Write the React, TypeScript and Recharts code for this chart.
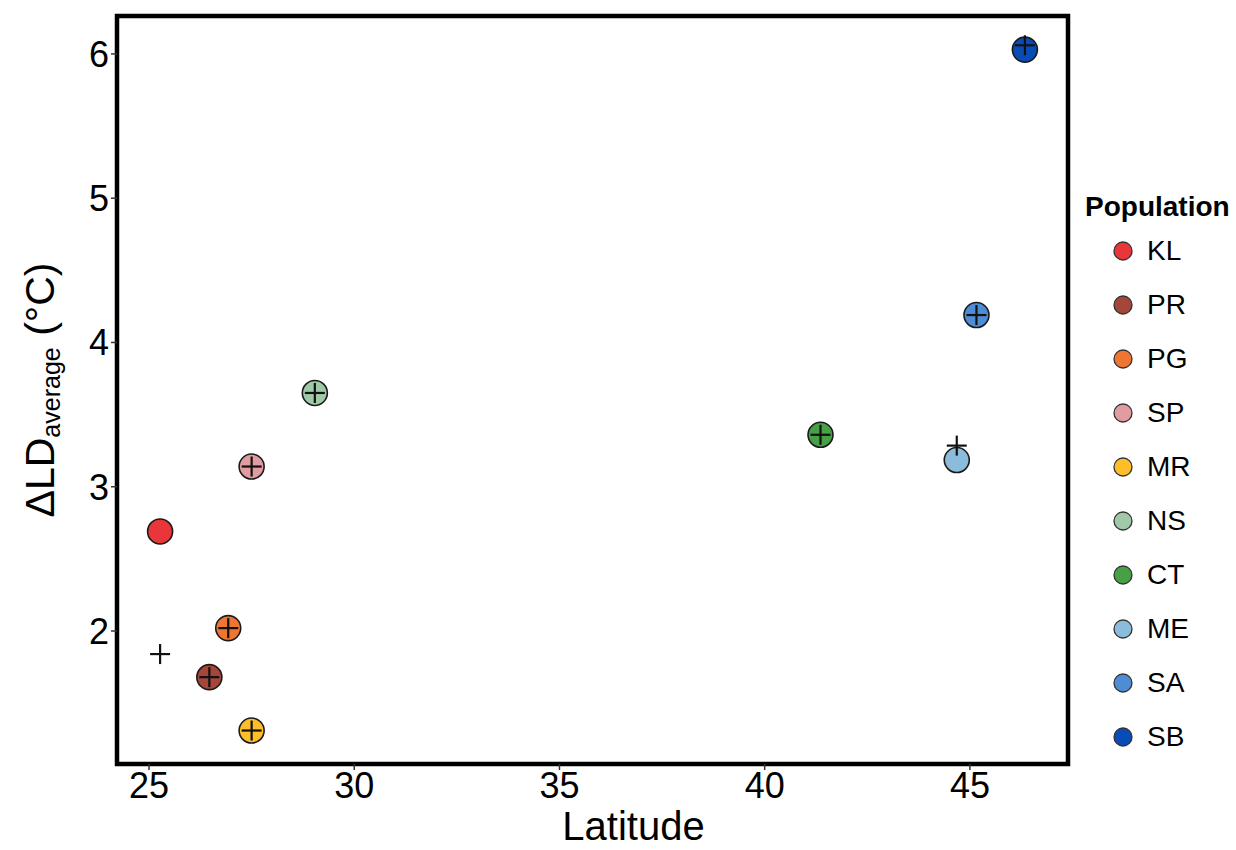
import React from "react";
import { ScatterChart, Scatter, XAxis, YAxis, ReferenceArea } from "recharts";

const populations = ["KL", "PR", "PG", "SP", "MR", "NS", "CT", "ME", "SA", "SB"];
const latitude = [25.27, 26.47, 26.93, 27.5, 27.5, 29.04, 41.36, 44.68, 45.16, 46.34];
const observed = [2.69, 1.68, 2.02, 3.14, 1.31, 3.65, 3.36, 3.185, 4.19, 6.03];
const predicted = [1.84, 1.68, 2.02, 3.14, 1.31, 3.65, 3.36, 3.285, 4.19, 6.06];
const colors = [
  "#E8363A",
  "#A5463A",
  "#EE7532",
  "#E09CA1",
  "#FDBE2A",
  "#A0C9A8",
  "#45A046",
  "#8BBCDB",
  "#4F8CD6",
  "#0A4CB5",
];
const xTicks = [25, 30, 35, 40, 45];
const yTicks = [2, 3, 4, 5, 6];

const obsData = populations.map((name, i) => ({
  name,
  lat: latitude[i],
  value: observed[i],
  color: colors[i],
}));
const predData = populations.map((name, i) => ({
  name,
  lat: latitude[i],
  value: predicted[i],
}));

const FONT = '"Liberation Sans", Arial, Helvetica, sans-serif';

const Dot = (props: any) => {
  const { cx, cy, payload } = props;
  return (
    <circle cx={cx} cy={cy} r={12.5} fill={payload.color} stroke="#1a1a1a" strokeWidth={1.6} />
  );
};

const Plus = (props: any) => {
  const { cx, cy } = props;
  return (
    <g stroke="#111" strokeWidth={2.2}>
      <line x1={cx - 10} x2={cx + 10} y1={cy} y2={cy} />
      <line x1={cx} x2={cx} y1={cy - 10} y2={cy + 10} />
    </g>
  );
};

const XLabel = (props: any) => {
  const vb = props.viewBox || { x: 0, y: 0, width: 0, height: 0 };
  return (
    <text
      x={vb.x + vb.width / 2 + 41}
      y={vb.y + vb.height - 10}
      textAnchor="middle"
      fill="#000"
      fontSize={40}
      fontFamily={FONT}
    >
      Latitude
    </text>
  );
};

const YLabel = (props: any) => {
  const vb = props.viewBox || { x: 0, y: 0, width: 0, height: 0 };
  const cx = 40;
  const cy = vb.y + vb.height / 2;
  return (
    <text
      x={cx}
      y={cy}
      transform={`rotate(-90, ${cx}, ${cy})`}
      textAnchor="middle"
      dominantBaseline="central"
      fill="#000"
      fontSize={41}
      fontFamily={FONT}
    >
      <tspan>ΔLD</tspan>
      <tspan fontSize={25} dy={11}>average</tspan>
      <tspan dy={-11}> (°C)</tspan>
    </text>
  );
};

const LegendBox = () => (
  <div
    style={{
      position: "absolute",
      left: 1085,
      top: 190,
      fontFamily: FONT,
      color: "#000",
    }}
  >
    <div style={{ fontSize: 28, fontWeight: "bold", lineHeight: "34px", marginBottom: 0 }}>
      Population
    </div>
    {populations.map((p, i) => (
      <div key={p} style={{ display: "flex", alignItems: "center", height: 54, paddingLeft: 27 }}>
        <svg width={22} height={22} style={{ marginRight: 13 }}>
          <circle cx={11} cy={11} r={9} fill={colors[i]} stroke="#333" strokeWidth={1.3} />
        </svg>
        <span style={{ fontSize: 28 }}>{p}</span>
      </div>
    ))}
  </div>
);

export default function App() {
  return (
    <div
      style={{
        position: "absolute",
        left: 0,
        top: 0,
        width: 1236,
        height: 850,
        background: "#fff",
        fontFamily: FONT,
      }}
    >
      <ScatterChart
        width={1236}
        height={850}
        margin={{ top: 16, right: 168, bottom: 0, left: 0 }}
      >
        <XAxis
          type="number"
          dataKey="lat"
          domain={[24.22, 47.39]}
          ticks={xTicks}
          allowDataOverflow
          axisLine={false}
          tickLine={{ stroke: "#333", strokeWidth: 1.5 }}
          tickSize={6}
          tick={{ fill: "#000", fontSize: 36 }}
          height={86}
          label={<XLabel />}
        />
        <YAxis
          type="number"
          dataKey="value"
          domain={[1.078, 6.263]}
          ticks={yTicks}
          allowDataOverflow
          axisLine={false}
          tickLine={{ stroke: "#333", strokeWidth: 1.5 }}
          tickSize={6}
          tick={{ fill: "#000", fontSize: 36 }}
          width={117}
          label={<YLabel />}
        />
        <ReferenceArea
          x1={24.22}
          x2={47.39}
          y1={1.078}
          y2={6.263}
          fill="none"
          stroke="#000"
          strokeWidth={4.5}
          ifOverflow="visible"
        />
        <Scatter data={obsData} shape={<Dot />} isAnimationActive={false} />
        <Scatter data={predData} shape={<Plus />} isAnimationActive={false} />
      </ScatterChart>
      <LegendBox />
    </div>
  );
}
